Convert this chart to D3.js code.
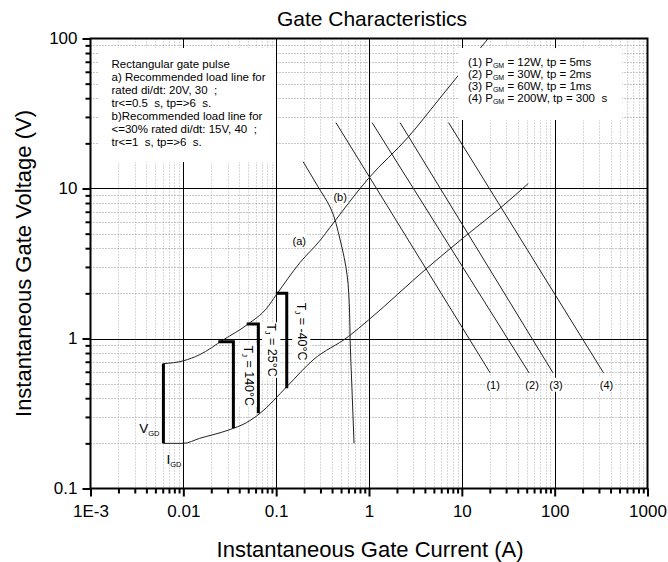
<!DOCTYPE html>
<html>
<head>
<meta charset="utf-8">
<script src="https://cdn.jsdelivr.net/npm/d3@7"></script>
<style>
  html, body { margin: 0; padding: 0; background: #fff; }
  svg { display: block; font-family: "Liberation Sans", Arial, sans-serif; }
  svg text { white-space: pre; }
</style>
</head>
<body>
<svg id="chart" width="668" height="562"></svg>
<script>
// ---------- data ----------
const xMajorTicks = [0.001, 0.01, 0.1, 1, 10, 100, 1000];
const xTickLabels = ["1E-3", "0.01", "0.1", "1", "10", "100", "1000"];
const yMajorTicks = [0.1, 1, 10, 100];
const yTickLabels = ["0.1", "1", "10", "100"];

// upper boundary of gate characteristic  [I (A), V (V)]
const upperCurve = [[0.0061,0.68],[0.01,0.71],[0.015,0.78],[0.027,0.98],[0.05,1.25],[0.079,1.59],[0.10,1.95],[0.18,3.2],[0.30,4.54],[0.38,5.5],[0.99,11.7],[2.66,22.1],[5.6,38.9],[19.2,100]];
// lower boundary of gate characteristic
const lowerCurve = [[0.0061,0.2],[0.01,0.2],[0.015,0.216],[0.0305,0.245],[0.048,0.275],[0.067,0.317],[0.13,0.477],[0.25,0.72],[0.60,1.03],[0.99,1.33],[4.2,2.94],[11.3,4.9],[27,7.57],[52,10.8]];
// load line curve
const loadCurve = [[0.195,15.1],[0.282,10.3],[0.381,7.53],[0.489,4.54],[0.581,2.65],[0.618,1.48],[0.626,0.98],[0.653,0.49],[0.69,0.2]];
// peak gate power lines
const powerNames = ["(1)", "(2)", "(3)", "(4)"];
const powerLines = [
  [[0.44,27.5],[20.2,0.59]],
  [[1.08,27.5],[53,0.59]],
  [[2.16,27.5],[96,0.59]],
  [[7.2,27.5],[336,0.59]]
];
// bold temperature limit lines  [I, V] corners
const vgdLine = [[0.0061,0.2],[0.0061,0.68]];
const tjNames = ["140°C", "25°C", "-40°C"];
const tjLines = [
  [[0.0238,0.953],[0.0346,0.953],[0.0346,0.252]],
  [[0.0482,1.25],[0.0643,1.25],[0.0643,0.317]],
  [[0.099,2.0],[0.13,2.0],[0.13,0.466]]
];
const tjLabelAt = [[0.0501,0.564],[0.0897,0.838],[0.189,1.11]];
const curveLabels = [{t:"(a)", at:[0.177,4.47]}, {t:"(b)", at:[0.489,8.78]}];

const noteLines = ["Rectangular gate pulse","a) Recommended load line for","rated di/dt: 20V, 30  ;","tr<=0.5  s, tp=>6  s.","b)Recommended load line for","<=30% rated di/dt: 15V, 40  ;","tr<=1  s, tp=>6  s."];
const legendPre = ["(1) P", "(2) P", "(3) P", "(4) P"];
const legendPost = [" = 12W, tp = 5ms", " = 30W, tp = 2ms", " = 60W, tp = 1ms", " = 200W, tp = 300  s"];

// ---------- layout ----------
const L = 90.5, R = 647.5, T = 38.5, B = 488.5;
const svg = d3.select("#chart");
const x = d3.scaleLog().domain([0.001, 1000]).range([L, R]);
const y = d3.scaleLog().domain([0.1, 100]).range([B, T]);
const allX = x.ticks(), allY = y.ticks();
const isMajor = v => Math.abs(Math.log10(v) - Math.round(Math.log10(v))) < 1e-9;
const minorX = allX.filter(v => !isMajor(v));
const minorY = allY.filter(v => !isMajor(v));

// grid
const g = svg.append("g");
g.selectAll(".vminor").data(minorX).join("line")
  .attr("x1", d => Math.round(x(d)) + 0.5).attr("x2", d => Math.round(x(d)) + 0.5)
  .attr("y1", T).attr("y2", B)
  .attr("stroke", "#b0b0b0").attr("stroke-dasharray", "1,2");
g.selectAll(".hminor").data(minorY).join("line")
  .attr("y1", d => Math.round(y(d)) + 0.5).attr("y2", d => Math.round(y(d)) + 0.5)
  .attr("x1", L).attr("x2", R)
  .attr("stroke", "#909090").attr("stroke-dasharray", "1,2");
g.selectAll(".vmajor").data(xMajorTicks.slice(1, -1)).join("line")
  .attr("x1", d => Math.round(x(d)) + 0.5).attr("x2", d => Math.round(x(d)) + 0.5)
  .attr("y1", T).attr("y2", B).attr("stroke", "#000");
g.selectAll(".hmajor").data(yMajorTicks.slice(1, -1)).join("line")
  .attr("y1", d => Math.round(y(d)) + 0.5).attr("y2", d => Math.round(y(d)) + 0.5)
  .attr("x1", L).attr("x2", R).attr("stroke", "#000");

// curves
const line = d3.line().x(d => x(d[0])).y(d => y(d[1]));
const smoothX = d3.line().x(d => x(d[0])).y(d => y(d[1])).curve(d3.curveMonotoneX);
const smoothY = d3.line().x(d => x(d[0])).y(d => y(d[1])).curve(d3.curveMonotoneY);
const curves = svg.append("g").attr("fill", "none").attr("stroke", "#222").attr("stroke-width", 1);
curves.append("path").attr("d", smoothX(upperCurve));
curves.append("path").attr("d", smoothX(lowerCurve));
curves.append("path").attr("d", smoothY(loadCurve));
powerLines.forEach(p => curves.append("path").attr("d", line(p)));

// bold lines
const bold = svg.append("g").attr("fill", "none").attr("stroke", "#000").attr("stroke-width", 3);
bold.append("path").attr("d", line(vgdLine));
tjLines.forEach(p => bold.append("path").attr("d", line(p)));

// labels with white background
function bgText(parent, px, py, build, rotate, size) {
  const grp = parent.append("g").attr("transform", `translate(${px},${py})` + (rotate ? ` rotate(${rotate})` : ""));
  const rect = grp.append("rect").attr("fill", "#fff");
  const t = grp.append("text").attr("text-anchor", "middle").attr("dy", "0.35em").attr("font-size", size || 11);
  build(t);
  const bb = t.node().getBBox();
  rect.attr("x", bb.x - 1).attr("y", bb.y - 1).attr("width", bb.width + 2).attr("height", bb.height + 2);
  return grp;
}
const labels = svg.append("g");
powerLines.forEach((p, i) => {
  const e = p[1];
  bgText(labels, x(e[0]) + 3, y(e[1]) + 12, t => t.text(powerNames[i]));
});
curveLabels.forEach(c => bgText(labels, x(c.at[0]), y(c.at[1]), t => t.text(c.t)));
tjLabelAt.forEach((a, i) => bgText(labels, x(a[0]), y(a[1]), t => {
  t.append("tspan").text("T");
  t.append("tspan").attr("font-size", 7.5).attr("dy", "0.3em").text("J");
  t.append("tspan").attr("dy", "-0.25em").text(" = " + tjNames[i]);
}, 90, 12.5));
// V_GD and I_GD
const vg = labels.append("text").attr("font-size", 13.5).attr("text-anchor", "end")
  .attr("x", x(vgdLine[0][0]) - 4).attr("y", y(vgdLine[0][1]) - 10);
vg.append("tspan").text("V");
vg.append("tspan").attr("font-size", 7.5).attr("dy", 3).text("GD");
const ig = labels.append("text").attr("font-size", 13.5)
  .attr("x", x(vgdLine[0][0]) + 3).attr("y", y(vgdLine[0][1]) + 21);
ig.append("tspan").text("I");
ig.append("tspan").attr("font-size", 7.5).attr("dy", 3).text("GD");

// note box (top-left)
svg.append("rect").attr("x", 98).attr("y", 48).attr("width", 178).attr("height", 114).attr("fill", "#fff");
svg.append("g").selectAll("text").data(noteLines).join("text")
  .attr("x", 111.5).attr("y", (d, i) => 67.5 + i * 13.15)
  .attr("font-size", 11.5).text(d => d);

// legend box (top-right)
svg.append("rect").attr("x", 458).attr("y", 48).attr("width", 164).attr("height", 72).attr("fill", "#fff");
const lg = svg.append("g");
legendPre.forEach((pre, i) => {
  const t = lg.append("text").attr("x", 468).attr("y", 65.5 + i * 12.2).attr("font-size", 11.5);
  t.append("tspan").text(pre);
  t.append("tspan").attr("font-size", 7).attr("dy", 2).text("GM");
  t.append("tspan").attr("dy", -2).text(legendPost[i]);
});

// axes
const axX = svg.append("g").attr("transform", `translate(0,${B})`);
axX.append("g").call(d3.axisBottom(x).tickValues(minorX).tickSize(5).tickFormat(""));
axX.append("g").call(d3.axisBottom(x).tickValues(xMajorTicks).tickSize(8).tickPadding(8)
  .tickFormat((d, i) => xTickLabels[i]));
const axY = svg.append("g").attr("transform", `translate(${L},0)`);
axY.append("g").call(d3.axisLeft(y).tickValues(minorY).tickSize(5).tickFormat(""));
axY.append("g").call(d3.axisLeft(y).tickValues(yMajorTicks).tickSize(8).tickPadding(5)
  .tickFormat((d, i) => yTickLabels[i]));
svg.selectAll(".domain").remove();
svg.selectAll(".tick line").attr("stroke", "#000").attr("stroke-width", 2);
svg.selectAll(".tick text").attr("font-size", 17).attr("fill", "#000")
  .attr("font-family", "'Liberation Sans', Arial, sans-serif");

// frame
svg.append("rect").attr("x", L).attr("y", T).attr("width", R - L).attr("height", B - T)
  .attr("fill", "none").attr("stroke", "#000").attr("stroke-width", 2);

// titles
svg.append("text").attr("x", 372).attr("y", 26).attr("text-anchor", "middle")
  .attr("font-size", 21).text("Gate Characteristics");
svg.append("text").attr("x", 370).attr("y", 557).attr("text-anchor", "middle")
  .attr("font-size", 22).text("Instantaneous Gate Current (A)");
svg.append("text").attr("transform", `translate(31,${(T + B) / 2}) rotate(-90)`)
  .attr("text-anchor", "middle").attr("font-size", 22).text("Instantaneous Gate Voltage (V)");
</script>
</body>
</html>
